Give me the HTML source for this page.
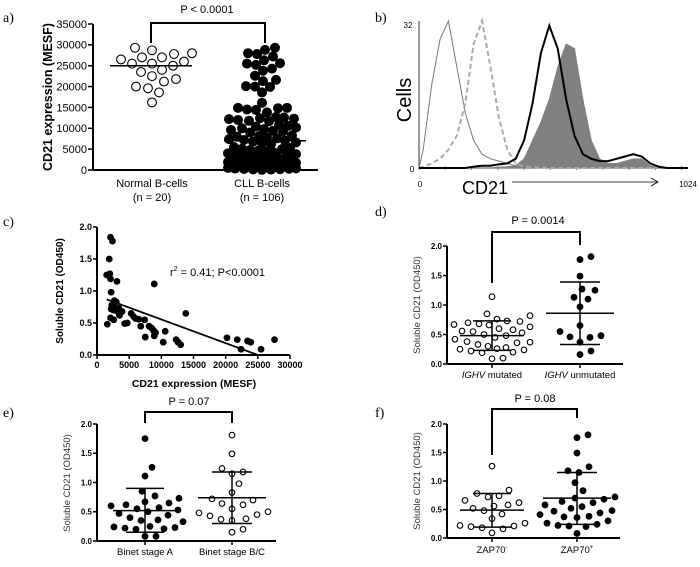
<!DOCTYPE html>
<html><head><meta charset="utf-8">
<style>
html,body{margin:0;padding:0;background:#fff;}
svg{display:block;font-family:"Liberation Sans",Arial,sans-serif;}
.lbl{font-family:"Liberation Serif",serif;font-size:14px;}
</style></head>
<body>
<svg id="fig" width="700" height="567" viewBox="0 0 700 567" xmlns="http://www.w3.org/2000/svg">
<rect width="700" height="567" fill="#fff"/>
<text class="lbl" x="3" y="22">a)</text>
<text class="lbl" x="375" y="22">b)</text>
<text class="lbl" x="3" y="226">c)</text>
<text class="lbl" x="375" y="216">d)</text>
<text class="lbl" x="3" y="417">e)</text>
<text class="lbl" x="375" y="417">f)</text>

<g id="pa">
<text x="52" y="97" transform="rotate(-90 52 97)" text-anchor="middle" font-size="12.5" font-weight="bold">CD21 expression (MESF)</text>
<text x="152" y="187" text-anchor="middle" font-size="11">Normal B-cells</text>
<text x="152" y="201" text-anchor="middle" font-size="11">(n = 20)</text>
<text x="262" y="187" text-anchor="middle" font-size="11">CLL B-cells</text>
<text x="262" y="201" text-anchor="middle" font-size="11">(n = 106)</text>
<text x="207" y="13" text-anchor="middle" font-size="11">P &lt; 0.0001</text>
</g>

<g id="pb">
<text x="411" y="100" transform="rotate(-90 411 100)" text-anchor="middle" font-size="20">Cells</text>
<text x="408" y="28" text-anchor="middle" font-size="8">32</text>
<text x="412" y="172" text-anchor="middle" font-size="8">0</text>
<text x="420" y="187" text-anchor="middle" font-size="8">0</text>
<text x="688" y="187" text-anchor="middle" font-size="8">1024</text>
<text x="462" y="194" font-size="18">CD21</text>
<line x1="512" y1="182" x2="658" y2="182" stroke="#000" stroke-width="0.8"/>
<polyline points="651,178 658,182 651,186" fill="none" stroke="#000" stroke-width="0.8"/>
</g>

<g>
<text x="63" y="291" transform="rotate(-90 63 291)" text-anchor="middle" font-size="10" font-weight="bold">Soluble CD21 (OD450)</text>
<text x="194" y="387" text-anchor="middle" font-size="10.5" font-weight="bold">CD21 expression (MESF)</text>
<text x="170" y="276" font-size="11">r<tspan font-size="7" dy="-5">2</tspan><tspan dy="5"> = 0.41; P&lt;0.0001</tspan></text>
</g>

<text x="420" y="305" transform="rotate(-90 420 305)" text-anchor="middle" font-size="9.5" fill="#333">Soluble CD21 (OD450)</text>
<text x="492" y="378" text-anchor="middle" font-size="9.5"><tspan font-style="italic">IGHV</tspan> mutated</text>
<text x="580" y="378" text-anchor="middle" font-size="9.5"><tspan font-style="italic">IGHV</tspan> unmutated</text>
<text x="538" y="224" text-anchor="middle" font-size="11">P = 0.0014</text>

<text x="70" y="483" transform="rotate(-90 70 483)" text-anchor="middle" font-size="9.5" fill="#333">Soluble CD21 (OD450)</text>
<text x="145" y="555" text-anchor="middle" font-size="9.5">Binet stage A</text>
<text x="232" y="555" text-anchor="middle" font-size="9.5">Binet stage B/C</text>
<text x="189" y="405" text-anchor="middle" font-size="11">P = 0.07</text>

<text x="420" y="481" transform="rotate(-90 420 481)" text-anchor="middle" font-size="9.5" fill="#333">Soluble CD21 (OD450)</text>
<text x="492" y="553" text-anchor="middle" font-size="9.5">ZAP70<tspan font-size="6" dy="-4">-</tspan></text>
<text x="577" y="553" text-anchor="middle" font-size="9.5">ZAP70<tspan font-size="6" dy="-4">+</tspan></text>
<text x="535" y="402" text-anchor="middle" font-size="11">P = 0.08</text>
</svg>
<script>
const aCategories = ['Normal B-cells','CLL B-cells'];
const aNormal = [28000,27000,26500,25500,25000,25500,28700,29300,26000,27000,27800,24000,23500,22500,21800,20000,21200,19600,18600,16200];
const aCLL = [29300,28800,28000,27800,27200,26300,25600,25500,25200,24300,23800,22600,21600,21300,20100,20000,19900,18600,16100,14900,14900,14800,14500,14400,13800,
12700,12600,12400,12300,12200,12000,11800,11700,10800,10600,10400,10200,10000,9800,9600,9400,9200,9000,
8300,8100,8000,7800,7600,7400,7200,7000,6800,6600,6400,6200,5500,5300,5100,5000,4800,4600,4400,4200,4000,3800,3700,3500,
3200,3100,3000,2900,2800,2700,2600,2500,2400,2300,2200,2100,2000,1900,1800,1700,1600,1500,
1400,1200,1000,900,800,700,600,500,400,300,200,100,600,800,900,1100,1300,50,250,150,350];
const aMedians = [25000,7000];
const aTicks = [0,5000,10000,15000,20000,25000,30000,35000];

const bChannels = [16,48,80,112,144,176,208,240,272,304,336,368,400,432,464,496,528,560,592,624,656,688,720,752,784,816,848,880,912,944,976,1008];
const bIsotypeNormal = [4,18,28,32,22,12,6,3,2,1.5,1,0.5,0.3,0.2,0.2,0.1,0.1,0.1,0,0,0,0,0,0,0,0,0,0,0,0,0,0];
const bIsotypeCLL = [0.3,1,2,4,7,14,27,32,22,11,4,1,0.3,0.2,0.1,0,0,0,0,0,0,0,0,0,0,0,0,0,0,0,0,0];
const bNormalCD21 = [0,0,0,0,0,0,0.3,0.5,0.5,0.8,1,2,6,14,25,31,26,15,7,3,2,1.5,1.5,2,2.5,3,2.5,1,0.3,0,0,0];
const bCLLCD21 = [0,0,0,0,0,0,0,0,0,0.2,0.3,0.5,2,6,10,15,22,27,26,15,6,2,1,1,1.5,2,2,0.5,0.1,0,0,0];

const cCD21 = [2100,2400,1900,1500,2000,1800,2100,3100,2200,8900,2700,2300,3000,2200,2800,3400,3200,3900,2600,2100,1600,4300,4700,5300,5700,6000,6500,6800,7400,7500,8100,8500,8800,8900,9100,10300,10600,12300,12600,13000,13800,20200,21800,22400,23400,23900,25500,27600,2600,3500];
const cSoluble = [1.84,1.78,1.5,1.25,1.27,1.25,1.19,1.15,0.98,1.11,0.85,0.78,0.83,0.72,0.73,0.73,0.68,0.68,0.55,0.58,0.48,0.49,0.5,0.65,0.6,0.57,0.56,0.45,0.55,0.28,0.45,0.42,0.38,0.3,0.35,0.2,0.37,0.24,0.2,0.16,0.65,0.27,0.24,0.09,0.22,0.2,0.09,0.24,0.7,0.62];
const cFitSlope = -0.000037;
const cFitIntercept = 0.925;
const cFitRange = [1500,25000];
const cXTicks = [0,5000,10000,15000,20000,25000,30000];
const odTicks = [0,0.5,1.0,1.5,2.0];

const dMutated = [1.14,0.85,0.82,0.76,0.73,0.72,0.70,0.68,0.67,0.66,0.63,0.60,0.58,0.56,0.55,0.53,0.50,0.48,0.45,0.42,0.38,0.37,0.36,0.33,0.30,0.28,0.26,0.25,0.24,0.22,0.20,0.19,0.10,0.09];
const dUnmutated = [1.82,1.77,1.49,1.27,1.25,1.13,1.10,0.97,0.65,0.55,0.48,0.46,0.45,0.37,0.22,0.16];
const dStats = [[0.48,0.23,0.73],[0.86,0.33,1.39]];
const eStageA = [1.75,1.26,1.11,0.85,0.77,0.73,0.67,0.65,0.62,0.60,0.57,0.55,0.53,0.50,0.47,0.44,0.40,0.36,0.35,0.33,0.25,0.24,0.23,0.22,0.21,0.20,0.08,0.08];
const eStageBC = [1.81,1.49,1.24,1.18,1.15,0.98,0.83,0.72,0.70,0.64,0.62,0.55,0.50,0.48,0.45,0.43,0.38,0.37,0.35,0.20,0.15];
const eStats = [[0.52,0.15,0.90],[0.74,0.30,1.18]];
const fZapNeg = [1.26,0.84,0.78,0.74,0.72,0.66,0.62,0.58,0.56,0.52,0.48,0.42,0.34,0.26,0.22,0.21,0.20,0.18,0.16,0.09];
const fZapPos = [1.81,1.76,1.49,1.25,1.18,1.15,0.97,0.83,0.72,0.70,0.68,0.64,0.62,0.58,0.55,0.52,0.48,0.47,0.44,0.41,0.38,0.37,0.36,0.30,0.26,0.24,0.22,0.21,0.20,0.08];
const fStats = [[0.49,0.19,0.78],[0.70,0.24,1.15]];

const svg = document.getElementById('fig');
const NS = 'http://www.w3.org/2000/svg';
function el(tag, attrs){ const e=document.createElementNS(NS,tag); for(const k in attrs) e.setAttribute(k,attrs[k]); svg.appendChild(e); return e; }
function lin(d0,d1,r0,r1){ return v => r0 + (v-d0)/(d1-d0)*(r1-r0); }
function swarm(vals, cx, ys, r, maxOff){
  const idx = vals.map((v,i)=>i).sort((a,b)=>vals[a]-vals[b]);
  const placed=[]; const xs=new Array(vals.length);
  for(const i of idx){
    const y=ys(vals[i]); let best=null, bestD=-1;
    for(let k=0;k<=maxOff*2;k++){
      const dx = (k%2? 1:-1)*Math.ceil(k/2);
      let md=1e9;
      for(const p of placed){ const d=Math.hypot(p[0]-(cx+dx),p[1]-y); if(d<md) md=d; }
      if(md>=2*r-0.3){ best=dx; break; }
      if(md>bestD){ bestD=md; best=dx; }
    }
    xs[i]=cx+best; placed.push([cx+best,y]);
  }
  return xs;
}
function yAxis(x,ys,ticks,fmt,fs,bold,tl,name){
  const t0=ys(ticks[0]), t1=ys(ticks[ticks.length-1]);
  const ax=el('line',{x1:x,y1:t0,x2:x,y2:t1,stroke:'#000','stroke-width':2});
  
  
  ticks.forEach(t=>{
    const tk=el('line',{x1:x-tl,y1:ys(t),x2:x,y2:ys(t),stroke:'#000','stroke-width':1.5});
    
    
    const tx=el('text',{x:x-tl-1,y:ys(t)+fs*0.35,'text-anchor':'end','font-size':fs,'font-weight':bold?'bold':'normal'});
    tx.textContent=fmt(t);
    
    
  });
}
function xAxis(y,x0,x1,name){
  const ax=el('line',{x1:x0,y1:y,x2:x1,y2:y,stroke:'#000','stroke-width':2});
  
  
}
function dots(vals, xs, ys, r, filled, name){
  vals.forEach((v,i)=>{
    const c=el('circle',{cx:xs[i],cy:ys(v),r:filled?r:r-0.6,fill:filled?'#000':'#fff',stroke:'#000','stroke-width':filled?0:1.1});
    
    
  });
}
function hline(x0,x1,y,w,name){
  const l=el('line',{x1:x0,y1:y,x2:x1,y2:y,stroke:'#000','stroke-width':w});
  
  
}
function bracket(xl,xr,yt,yl,yr,name){
  const p=el('polyline',{points:`${xl},${yl} ${xl},${yt} ${xr},${yt} ${xr},${yr}`,fill:'none',stroke:'#000','stroke-width':2});
  
  
}
function errbar(cx,st,ys,mw,sw,name){
  hline(cx-mw,cx+mw,ys(st[0]),1.5,name+'-mean');
  hline(cx-sw,cx+sw,ys(st[1]),1.5,name+'-sd-low');
  hline(cx-sw,cx+sw,ys(st[2]),1.5,name+'-sd-high');
  const v=el('line',{x1:cx,y1:ys(st[1]),x2:cx,y2:ys(st[2]),stroke:'#000','stroke-width':1.5});
  
  
}

// panel a
{
  const ys=lin(0,35000,170,24);
  yAxis(93,ys,aTicks,t=>String(t),11,false,5,'a');
  xAxis(170,93,318,'a');
  const cx=[152,262];
  dots(aNormal, swarm(aNormal,cx[0],ys,6,40), ys, 5, false, 'a-normal-point');
  dots(aCLL, swarm(aCLL,cx[1],ys,4.6,34), ys, 5, true, 'a-cll-point');
  hline(110,192,ys(aMedians[0]),1.5,'a-normal-median');
  hline(224,306,ys(aMedians[1]),1.5,'a-cll-median');
  bracket(151,265,23,43,43,'a-significance-bracket');
}

// panel b
{
  const xs=lin(0,1024,419,688), ys=lin(0,32,168,21);
  const ax=el('polyline',{points:`419,21 419,168 688,168`,fill:'none',stroke:'#555','stroke-width':1.2});
  
  
  for(let t=0;t<=1000;t+=100){
    const tk=el('line',{x1:xs(t),y1:166,x2:xs(t),y2:170,stroke:'#555','stroke-width':0.8});
    
    
  }
  function path(arr){
    let d=`M${xs(0)},${ys(0)}`;
    arr.forEach((v,i)=>{ d+=` L${xs(bChannels[i])},${ys(v)}`; });
    return d+` L${xs(1024)},${ys(0)}`;
  }
  const f=el('path',{d:path(bCLLCD21)+' Z',fill:'#808080',stroke:'#808080','stroke-width':0.8});
  
  
  const p1=el('path',{d:path(bIsotypeNormal),fill:'none',stroke:'#777','stroke-width':1});
  
  
  const p2=el('path',{d:path(bIsotypeCLL),fill:'none',stroke:'#aaa','stroke-width':2,'stroke-dasharray':'5,3'});
  
  
  const p3=el('path',{d:path(bNormalCD21),fill:'none',stroke:'#000','stroke-width':2});
  
  
}

// panel c
{
  const xs=lin(0,30000,97,290), ys=lin(0,2,355,227);
  yAxis(97,ys,odTicks,t=>t.toFixed(1),9,true,4,'c');
  xAxis(355,97,290,'c');
  cXTicks.forEach(t=>{
    const tk=el('line',{x1:xs(t),y1:355,x2:xs(t),y2:359,stroke:'#000','stroke-width':1.5});
    
    
    const tx=el('text',{x:xs(t),y:368,'text-anchor':'middle','font-size':9,'font-weight':'bold'});
    tx.textContent=String(t);
    
    
  });
  cCD21.forEach((v,i)=>{
    const c=el('circle',{cx:xs(v),cy:ys(cSoluble[i]),r:3.4,fill:'#000'});
    
    
  });
  const fl=el('line',{x1:xs(cFitRange[0]),y1:ys(cFitIntercept+cFitSlope*cFitRange[0]),x2:xs(cFitRange[1]),y2:ys(cFitIntercept+cFitSlope*cFitRange[1]),stroke:'#000','stroke-width':1.8});
  
  
}

function dotPanel(name, ax, y0, y2, xEnd, cx, g1, f1, g2, f2, stats){
  const ys=lin(0,2,y0,y2);
  yAxis(ax,ys,odTicks,t=>t.toFixed(1),8,true,4,name);
  xAxis(y0,ax,xEnd,name);
  [0,1].forEach(k=>{
    const tk=el('line',{x1:cx[k],y1:y0,x2:cx[k],y2:y0+4,stroke:'#000','stroke-width':1.5});
    
    
  });
  dots(g1, swarm(g1,cx[0],ys,5.6,38), ys, 3.4, f1, name+'-group1-point');
  dots(g2, swarm(g2,cx[1],ys,5.6,38), ys, 3.4, f2, name+'-group2-point');
  errbar(cx[0],stats[0],ys,32,19,name+'-group1');
  errbar(cx[1],stats[1],ys,34,20,name+'-group2');
}
dotPanel('d',447,364,246,623,[492,580],dMutated,false,dUnmutated,true,dStats);
bracket(492,580,232,283,245,'d-significance-bracket');
dotPanel('e',97,541,424,276,[145,232],eStageA,true,eStageBC,false,eStats);
bracket(145,232,412,423,423,'e-significance-bracket');
dotPanel('f',447,538,424,620,[492,577],fZapNeg,false,fZapPos,true,fStats);
bracket(492,577,409,455,418,'f-significance-bracket');
</script>
</body></html>
